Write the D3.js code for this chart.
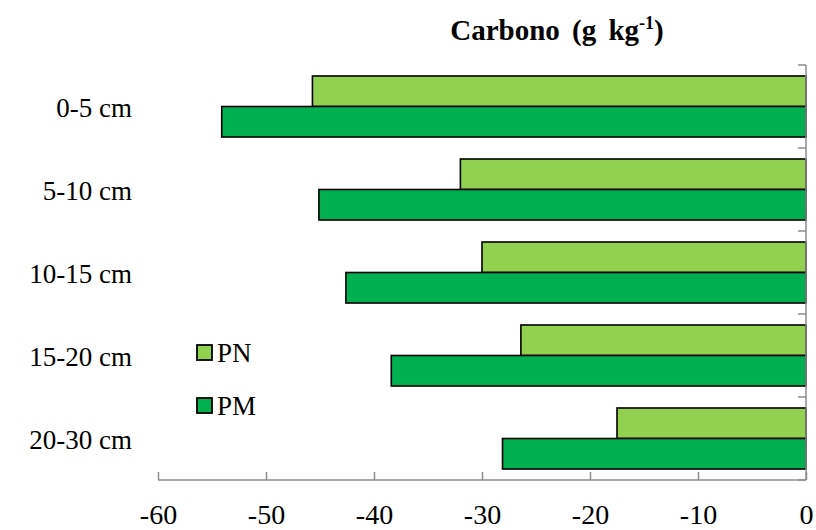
<!DOCTYPE html>
<html>
<head>
<meta charset="utf-8">
<script src="https://cdn.jsdelivr.net/npm/d3@7"></script>
<style>
  html, body { margin: 0; padding: 0; background: #fff; }
  svg text { font-family: "Liberation Serif", "Times New Roman", serif; fill: #000; }
</style>
</head>
<body>
<svg id="chart" width="816" height="530"></svg>
<script>
// Soil depth layers and carbon change per system (g kg-1)
const depths = ["0-5 cm", "5-10 cm", "10-15 cm", "15-20 cm", "20-30 cm"];
const seriesNames = ["PN", "PM"];
const pnValues = [-45.7, -32.0, -30.0, -26.4, -17.5];
const pmValues = [-54.1, -45.1, -42.6, -38.4, -28.1];
const xTicks = [-60, -50, -40, -30, -20, -10, 0];
const colors = { PN: "#92D050", PM: "#00B050" };

const rows = depths.map((d, i) => ({ depth: d, PN: pnValues[i], PM: pmValues[i] }));

const svg = d3.select("#chart");
const plotLeft = 158, plotRight = 806, plotTop = 65, plotBottom = 480;

const x = d3.scaleLinear().domain([-60, 0]).range([plotLeft, plotRight]);
const y = d3.scaleBand().domain(depths).range([plotTop, plotBottom]).paddingInner(0).paddingOuter(0);
const inner = d3.scaleBand().domain(seriesNames).range([0, y.bandwidth()]).paddingInner(0).paddingOuter(0.36);

// Bars
const groups = svg.append("g").selectAll("g").data(rows).join("g")
  .attr("transform", d => `translate(0,${y(d.depth)})`);
groups.selectAll("rect").data(d => seriesNames.map(s => ({ s, v: d[s] }))).join("rect")
  .attr("x", d => x(d.v))
  .attr("y", d => inner(d.s))
  .attr("width", d => x(0) - x(d.v))
  .attr("height", inner.bandwidth())
  .attr("fill", d => colors[d.s])
  .attr("stroke", "#000")
  .attr("stroke-width", 1.6);

// Bottom axis
const xAxis = svg.append("g").attr("transform", `translate(0,${plotBottom})`)
  .call(d3.axisBottom(x).tickValues(xTicks).tickSize(8).tickFormat(d3.format("d")));
xAxis.select(".domain").attr("stroke", "#8c8c8c").attr("stroke-width", 1.5)
  .attr("d", `M${plotLeft},0H${plotRight}`);
xAxis.selectAll(".tick line").attr("stroke", "#8c8c8c").attr("stroke-width", 1.5)
  .attr("y1", 0).attr("y2", 8).attr("transform", "translate(0,-8)");
xAxis.selectAll(".tick text").attr("font-size", 28).attr("dy", 0).attr("y", 44)
  .text(d => d < 0 ? "-" + Math.abs(d) : d);

// Vertical axis at zero, with category ticks on its left
const yAxis = svg.append("g").attr("transform", `translate(${plotRight},0)`);
yAxis.append("line").attr("x1", 0).attr("x2", 0).attr("y1", plotTop).attr("y2", plotBottom)
  .attr("stroke", "#8c8c8c").attr("stroke-width", 1.5);
const catEdges = depths.map(d => y(d)).concat([plotBottom]);
yAxis.selectAll("line.t").data(catEdges).join("line").attr("class", "t")
  .attr("x1", -8).attr("x2", 0).attr("y1", d => d).attr("y2", d => d)
  .attr("stroke", "#8c8c8c").attr("stroke-width", 1.5);

// Category labels
svg.append("g").selectAll("text").data(depths).join("text")
  .attr("x", 132)
  .attr("y", d => y(d) + y.bandwidth() / 2 + 10)
  .attr("text-anchor", "end")
  .attr("font-size", 27)
  .text(d => d);

// Title
const title = svg.append("text").attr("x", 557).attr("y", 40).attr("text-anchor", "middle")
  .attr("font-size", 29).attr("font-weight", "bold").attr("word-spacing", 5);
title.append("tspan").text("Carbono (g kg");
title.append("tspan").attr("font-size", 18).attr("dy", -11).text("-1");
title.append("tspan").attr("dy", 11).text(")");

// Legend
const legend = svg.append("g").selectAll("g").data(seriesNames).join("g")
  .attr("transform", (d, i) => `translate(197,${345 + i * 53})`);
legend.append("rect").attr("width", 15).attr("height", 15)
  .attr("fill", d => colors[d]).attr("stroke", "#000").attr("stroke-width", 1.8);
legend.append("text").attr("x", 20).attr("y", 17).attr("font-size", 27).text(d => d);
</script>
</body>
</html>
